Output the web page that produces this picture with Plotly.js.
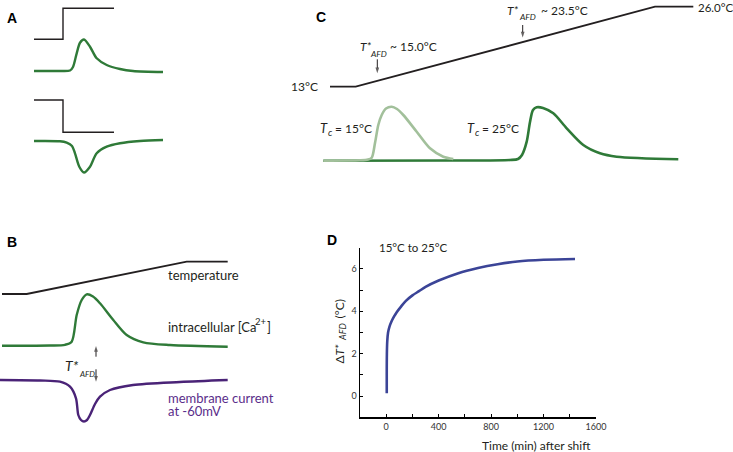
<!DOCTYPE html>
<html>
<head>
<meta charset="utf-8">
<script src="https://cdn.plot.ly/plotly-3.0.1.min.js"></script>
<style>html,body{margin:0;padding:0;background:#fff;}#chart{width:733px;height:452px;}</style>
</head>
<body>
<div id="chart"></div>
<script>
// ---- Panel A (schematic, figure units) ----
const aStepUpX = [34, 63, 63, 114];
const aStepUpY = [39.3, 39.3, 8.3, 8.3];
const aRiseX = [34, 60, 70, 73, 76.7, 80, 84, 90, 96.7, 106.7, 120, 133, 163];
const aRiseY = [71, 71, 70.5, 67, 53.3, 42.7, 39.5, 46.7, 58.3, 65, 69, 71, 72];
const aStepDownX = [34, 63, 63, 114];
const aStepDownY = [100, 100, 132.3, 132.3];
const aDipX = [34, 60, 66.7, 72, 75, 79.3, 84, 90, 96.7, 106.7, 120, 140, 163];
const aDipY = [141, 141.3, 142.7, 146, 153.3, 166.7, 172.5, 166.7, 153.3, 146.7, 143.3, 141, 140];

// ---- Panel B ----
const bTempX = [2, 26.7, 186.7, 227.7];
const bTempY = [294, 294, 261.7, 261.7];
const bCaX = [2, 50, 65, 71.7, 76.7, 81.7, 86.7, 93, 100, 113.3, 126.7, 143.3, 170, 227.7];
const bCaY = [345.7, 345.5, 344.8, 341.7, 315, 300, 294.3, 296.5, 303.3, 320, 335, 342.3, 345, 346.7];
const bCurX = [0, 40, 60, 70, 76, 78.3, 81, 84, 87, 90, 95, 100, 110, 133, 180, 227.7];
const bCurY = [380, 380.5, 381.7, 386.7, 398.3, 415, 420, 421.5, 420, 415, 404, 396.7, 390, 385, 382, 380];

// ---- Panel C ----
const cTempX = [330, 355.7, 655, 693.3];
const cTempY = [86.7, 86.7, 6.7, 6.7];
const cLightX = [323.3, 360, 368, 371.7, 375, 378.3, 381.7, 386, 391.7, 397, 403.3, 416.7, 430, 443.3, 453.3];
const cLightY = [160.7, 160.3, 159.5, 157.7, 143, 125, 115, 108.5, 106.7, 109, 115, 131.7, 148.3, 156.7, 159];
const cDarkX = [323.3, 450, 510, 518, 522, 526.7, 530, 533, 536.7, 543, 553.3, 566.7, 583.3, 600, 616.7, 678.3];
const cDarkY = [160.7, 160.5, 160, 159, 155, 141.7, 122, 110, 107.3, 108, 113.3, 128.3, 145, 153.3, 156.7, 159.3];

// ---- Annotation arrows (B and C): x, tail y, head y ----
const arrowX = [96, 96, 377.3, 522.7];
const arrowTail = [356.7, 369.3, 59.3, 25];
const arrowHead = [346, 381.7, 73.3, 37.5];

// ---- Panel D (data) ----
const dTime = [4, 4, 5, 8, 14, 25, 40, 60, 80, 110, 150, 200, 250, 300, 400, 550, 700, 850, 1000, 1200, 1440];
const dDelta = [0.13, 1.0, 2.0, 2.6, 3.0, 3.28, 3.52, 3.76, 3.96, 4.2, 4.49, 4.75, 4.95, 5.15, 5.45, 5.8, 6.04, 6.22, 6.35, 6.43, 6.47];
const dXTicks = [0, 400, 800, 1200, 1600];
const dXMinor = [200, 600, 1000, 1400];
const dYTicks = [0, 2, 4, 6];
const dYMinor = [1, 3, 5, 7];

const INK = '#231f20', GREEN = '#2f7a38', LIGHT = '#a2c09b', PURPLE = '#4a2377', BLUE = '#3b4497';
const FONT = 'Lato, "Open Sans", sans-serif';

function sch(x, y, color, width, spline) {
  return {x: x, y: y, xaxis: 'x2', yaxis: 'y2', mode: 'lines', hoverinfo: 'skip',
    line: {color: color, width: width, shape: spline ? 'spline' : 'linear', smoothing: 0.8}};
}

const traces = [
  sch(aStepUpX, aStepUpY, INK, 1.4, false),
  sch(aRiseX, aRiseY, GREEN, 2.4, true),
  sch(aStepDownX, aStepDownY, INK, 1.4, false),
  sch(aDipX, aDipY, GREEN, 2.4, true),
  sch(bTempX, bTempY, INK, 1.8, false),
  sch(bCaX, bCaY, GREEN, 2.4, true),
  sch(bCurX, bCurY, PURPLE, 2.4, true),
  sch(cTempX, cTempY, INK, 1.8, false),
  sch(cDarkX, cDarkY, GREEN, 2.6, true),
  sch(cLightX, cLightY, LIGHT, 2.6, true),
  {x: dTime, y: dDelta, mode: 'lines', xaxis: 'x', yaxis: 'y', hoverinfo: 'skip',
   line: {color: BLUE, width: 2.6, shape: 'spline', smoothing: 1}}
];
arrowX.forEach(function (ax, i) {
  traces.push({x: [ax, ax], y: [arrowTail[i], arrowHead[i]], xaxis: 'x2', yaxis: 'y2',
    mode: 'lines+markers', hoverinfo: 'skip', line: {color: INK, width: 1},
    marker: {symbol: 'arrow', angleref: 'previous', size: [0, 6], color: INK, line: {width: 0}}});
});

function txt(x, y, t, opts) {
  return Object.assign({x: x, y: y, xref: 'x2', yref: 'y2', text: t, showarrow: false,
    xanchor: 'left', yanchor: 'middle', font: {family: FONT, size: 12, color: INK}}, opts || {});
}
const bold = {family: '"Liberation Sans", Arial, sans-serif', size: 14, color: '#000', weight: 'bold'};
const f = function (size, color) { return {family: FONT, size: size, color: color || INK}; };
const fi = function (size) { return {family: FONT, size: size, color: INK, style: 'italic'}; };
const rot = function (x, y, t, font) { return txt(x, y, t, {xanchor: 'center', textangle: -90, font: font}); };

const annotations = [
  txt(12, 18, 'A', {xanchor: 'center', font: bold}),
  txt(12, 242, 'B', {xanchor: 'center', font: bold}),
  txt(321, 17, 'C', {xanchor: 'center', font: bold}),
  txt(332, 240, 'D', {xanchor: 'center', font: bold}),
  // B
  txt(165.5, 275, 'temperature', {font: f(13)}),
  txt(165.5, 326.7, 'intracellular [Ca', {font: f(13)}),
  txt(253, 321.5, '2+', {font: f(9.5)}),
  txt(264.5, 326.7, ']', {font: f(13)}),
  txt(165.5, 398.3, 'membrane current', {font: f(13, '#5a2d8a')}),
  txt(165.5, 410.5, 'at -60mV', {font: f(13, '#5a2d8a')}),
  txt(63, 365, 'T*', {font: fi(14)}),
  txt(76.5, 373.5, 'AFD', {font: fi(8)}),
  // C
  txt(320, 86.7, '13°C', {xanchor: 'right'}),
  txt(697, 7, '26.0°C', {font: f(11.5), borderpad: 0}),
  txt(358, 46.7, 'T*', {font: fi(12)}),
  txt(368, 53.5, 'AFD', {font: fi(8.5)}),
  txt(388, 46.7, '~ 15.0°C'),
  txt(505, 10, 'T*', {font: fi(12)}),
  txt(516.5, 16.8, 'AFD', {font: fi(8.5)}),
  txt(539, 10, '~ 23.5°C'),
  txt(318, 128.3, 'T', {font: fi(13)}),
  txt(326, 132, 'c', {font: fi(9.5)}),
  txt(333, 128.3, '= 15°C'),
  txt(465, 128.3, 'T', {font: fi(13)}),
  txt(473, 132, 'c', {font: fi(9.5)}),
  txt(480, 128.3, '= 25°C'),
  // D
  txt(376.7, 247.7, '15°C to 25°C', {font: f(11.5)}),
  txt(480, 445, 'Time (min) after shift'),
  rot(338.5, 360, 'Δ', f(12)),
  rot(338.5, 350, 'T*', fi(12)),
  rot(342, 332, 'AFD', fi(9)),
  rot(338.5, 309, '(°C)', f(12))
];

const axisBase = {showgrid: false, zeroline: false, showline: true, linecolor: '#000', linewidth: 1.5,
  ticks: 'inside', ticklen: 3, tickwidth: 1.2, tickcolor: '#000', tickmode: 'array',
  tickfont: {family: FONT, size: 9, color: '#333'}};

const layout = {
  width: 733, height: 452,
  margin: {l: 0, r: 0, t: 0, b: 0},
  paper_bgcolor: '#fff', plot_bgcolor: 'rgba(0,0,0,0)',
  showlegend: false,
  font: {family: FONT, color: INK},
  xaxis: Object.assign({}, axisBase, {domain: [360/733, 596/733], anchor: 'y', range: [-200, 1600],
    tickvals: dXTicks, minor: {tickmode: 'array', tickvals: dXMinor, ticks: 'inside', ticklen: 3, tickwidth: 1.2, tickcolor: '#000'}}),
  yaxis: Object.assign({}, axisBase, {domain: [1 - 417.3/452, 1 - 247.7/452], anchor: 'x', range: [-1, 7],
    tickvals: dYTicks, minor: {tickmode: 'array', tickvals: dYMinor, ticks: 'inside', ticklen: 3, tickwidth: 1.2, tickcolor: '#000'}}),
  xaxis2: {domain: [0, 1], anchor: 'y2', range: [0, 733], visible: false, fixedrange: true},
  yaxis2: {domain: [0, 1], anchor: 'x2', range: [452, 0], visible: false, fixedrange: true},
  annotations: annotations
};

Plotly.newPlot('chart', traces, layout, {staticPlot: true, displayModeBar: false});
</script>
</body>
</html>
